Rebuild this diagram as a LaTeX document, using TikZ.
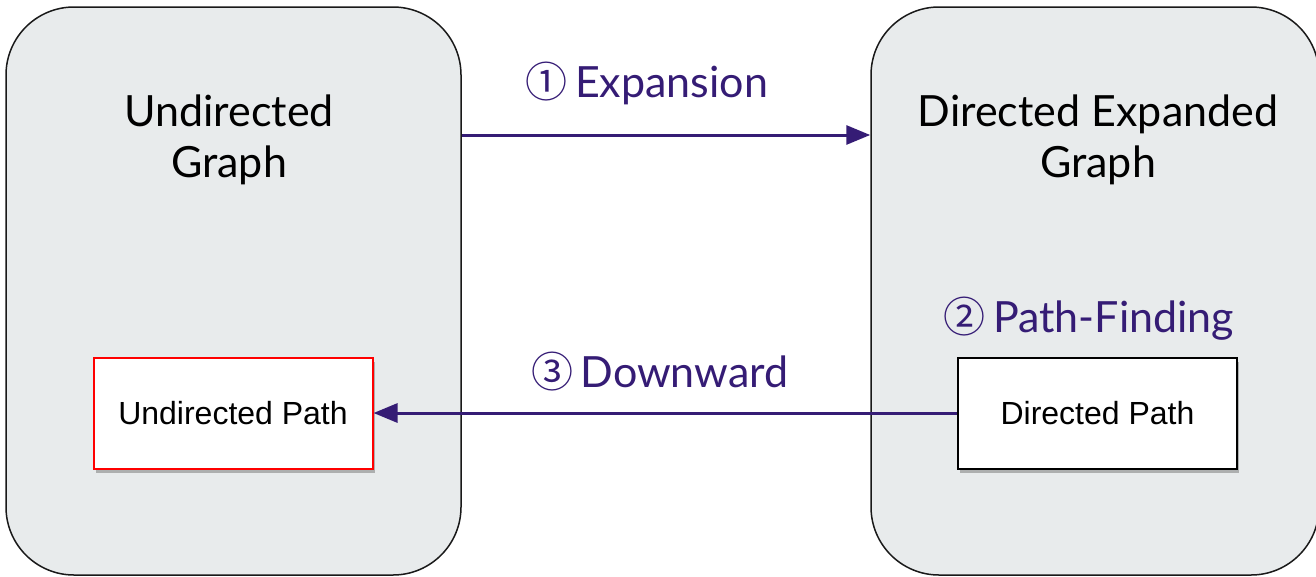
\documentclass[tikz,border=0pt]{standalone}
\usepackage{fontspec}
\setmainfont{Lato}
\newfontfamily\arialf{Liberation Sans}
\newfontfamily\symf{Noto Sans CJK SC}
\usetikzlibrary{arrows.meta,shadows}
\definecolor{panelgray}{RGB}{232,235,236}
\definecolor{dpurple}{RGB}{53,28,117}
\newcommand{\circnum}[1]{{\symf\fontsize{42}{42}\selectfont #1}}
\tikzset{
  panel/.style={draw=black!90, line width=1.5pt, fill=panelgray, rounded corners=68pt, inner sep=0pt},
  title/.style={font=\fontsize{43}{51}\selectfont, align=center, text=black, anchor=base},
  steplabel/.style={font=\fontsize{43}{48}\selectfont, text=dpurple, anchor=base},
  pathbox/.style={draw, line width=2pt, fill=white, minimum width=279pt, minimum height=111pt, inner sep=0pt,
     font=\arialf\fontsize{32}{36}\selectfont, drop shadow={shadow xshift=2pt, shadow yshift=-4pt, opacity=0.45, fill=black!60}},
  arr/.style={draw=dpurple, line width=3pt, -{Triangle[length=24pt,width=19pt]}}
}
\begin{document}
\begin{tikzpicture}[x=1pt,y=-1pt]
\useasboundingbox (0,0) rectangle (1316,576);
\clip (0,0) rectangle (1316,576);
\node[panel, minimum width=455pt, minimum height=568pt] (ug) at (233.5,291) {};
\node[panel, minimum width=448pt, minimum height=568pt] (dg) at (1095,291) {};
\node[title] (ugt) at (229,177) {Undirected\\Graph};
\node[title] (dgt) at (1098,177) {Directed Expanded\\Graph};
\node[pathbox, draw=red] (up) at (233,413) {Undirected Path};
\node[pathbox, draw=black] (dp) at (1097.5,413) {Directed Path};
\coordinate (r1) at (0,135);
\draw[arr] (ug.east |- r1) -- (dg.west |- r1);
\draw[arr] (dp.west) -- (up.east);
\node[steplabel] (l1) at (647,97) {\circnum{①}\,Expansion};
\node[steplabel] (l2) at (1089,332) {\circnum{②}\,Path-Finding};
\node[steplabel] (l3) at (660,387) {\circnum{③}\,Downward};
\end{tikzpicture}
\end{document}
